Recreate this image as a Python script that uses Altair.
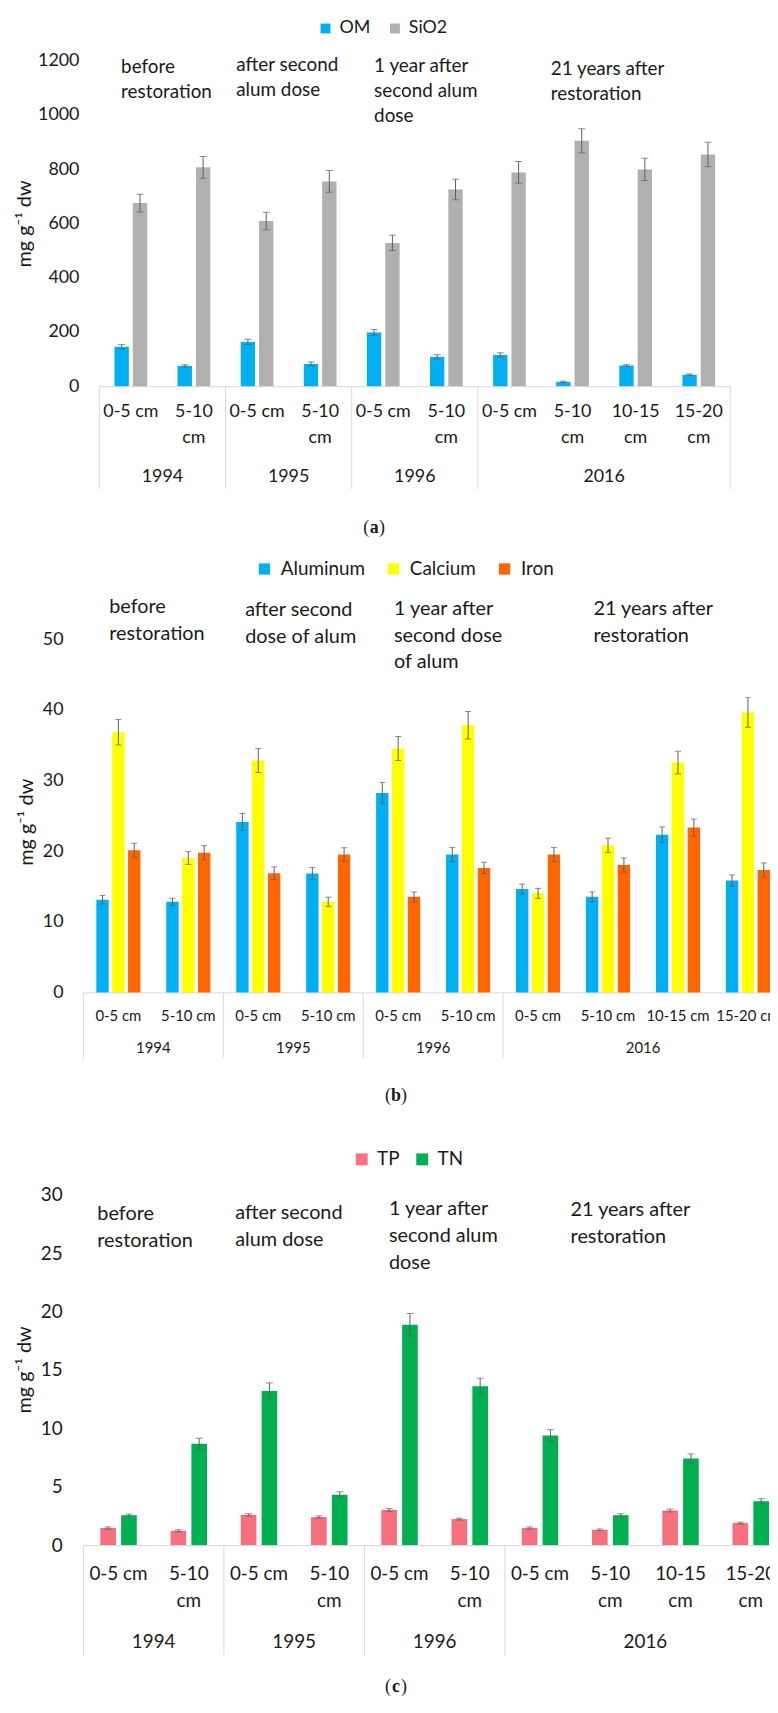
import altair as alt
import pandas as pd

# ---------------- data ----------------
years = ["1994", "1994", "1995", "1995", "1996", "1996", "2016", "2016", "2016", "2016"]
depths = ["0-5 cm", "5-10 cm", "0-5 cm", "5-10 cm", "0-5 cm", "5-10 cm",
          "0-5 cm", "5-10 cm", "10-15 cm", "15-20 cm"]
year_names = ["1994", "1995", "1996", "2016"]
depth_line1 = ["0-5 cm", "5-10", "0-5 cm", "5-10", "0-5 cm", "5-10", "0-5 cm", "5-10", "10-15", "15-20"]
depth_line2 = ["", "cm", "", "cm", "", "cm", "", "cm", "cm", "cm"]
keys = [f"{y} {d}" for y, d in zip(years, depths)]

# y tick labels
ticks_a = [0, 200, 400, 600, 800, 1000, 1200]
ticks_b = [0, 10, 20, 30, 40, 50]
ticks_c = [0, 5, 10, 15, 20, 25, 30]

# panel (a)
om = [147, 77, 165, 84, 200, 110, 117, 18, 78, 44]
om_err = [8, 4, 10, 7, 11, 8, 8, 2.5, 3, 3]
sio2 = [677, 809, 611, 757, 530, 727, 790, 907, 801, 856]
sio2_err = [33, 40, 32, 40, 28, 38, 40, 44, 41, 45]

# panel (b)
aluminum = [13.2, 12.9, 24.2, 16.9, 28.3, 19.6, 14.7, 13.6, 22.4, 15.9]
aluminum_err = [0.6, 0.5, 1.2, 0.85, 1.5, 1.0, 0.7, 0.7, 1.1, 0.8]
calcium = [36.9, 19.1, 32.9, 12.9, 34.6, 37.9, 14.1, 20.9, 32.6, 39.7]
calcium_err = [1.8, 0.9, 1.7, 0.65, 1.7, 1.95, 0.7, 1.0, 1.6, 2.1]
iron = [20.2, 19.85, 16.95, 19.6, 13.6, 17.7, 19.6, 18.1, 23.4, 17.4]
iron_err = [1.0, 1.0, 0.9, 0.95, 0.7, 0.8, 1.0, 1.0, 1.2, 1.0]

# panel (c)
tp = [1.5, 1.27, 2.63, 2.44, 3.06, 2.27, 1.5, 1.36, 3.0, 1.93]
tp_err = [0.1, 0.08, 0.1, 0.1, 0.12, 0.08, 0.1, 0.07, 0.12, 0.08]
tn = [2.6, 8.72, 13.25, 4.36, 18.92, 13.65, 9.43, 2.6, 7.45, 3.8]
tn_err = [0.1, 0.47, 0.68, 0.25, 0.96, 0.68, 0.5, 0.12, 0.4, 0.22]

notes_a = [["before", "restoration"], ["after second", "alum dose"],
           ["1 year after", "second alum", "dose"], ["21 years after", "restoration"]]
notes_b = [["before", "restoration"], ["after second", "dose of alum"],
           ["1 year after", "second dose", "of alum"], ["21 years after", "restoration"]]
notes_c = [["before", "restoration"], ["after second", "alum dose"],
           ["1 year after", "second alum", "dose"], ["21 years after", "restoration"]]

y_title = "mg g\u207b\u00b9 dw"
TXT = "#1a1a1a"
ERR = "#5f5f5f"
GRID = "#d9d9d9"
W = 768


def long_df(names, vals, errs):
    rows = []
    for name, v, e in zip(names, vals, errs):
        for k, val, err in zip(keys, v, e):
            rows.append({"key": k, "series": name, "value": val,
                         "lo": val - err, "hi": val + err})
    return pd.DataFrame(rows)


def panel(df, names, colors, ticks, cfg):
    xs = alt.Scale(domain=keys, range=cfg["xrange"], paddingInner=0, paddingOuter=0)
    ys = alt.Scale(domain=[ticks[0], ticks[-1]], range=cfg["yrange"], nice=False)
    xo = alt.XOffset("series:N", sort=names,
                     scale=alt.Scale(domain=names, paddingInner=cfg["pi"], paddingOuter=cfg["po"]))
    leg = alt.Legend(orient="none", legendX=cfg["legx"], legendY=cfg["legy"],
                     direction="horizontal", title=None, symbolType="square",
                     symbolSize=cfg["symsize"], symbolStrokeWidth=0, labelFont="Lato",
                     labelFontSize=cfg["legfont"], labelColor=TXT, labelOffset=cfg["laboff"],
                     columnPadding=cfg["colpad"], padding=0)
    base = alt.Chart(df)
    bars = base.mark_bar(clip=True).encode(
        x=alt.X("key:N", scale=xs, axis=None, sort=keys),
        xOffset=xo,
        y=alt.Y("value:Q", scale=ys, axis=None),
        color=alt.Color("series:N", sort=names,
                        scale=alt.Scale(domain=names, range=colors), legend=leg),
    )
    err = base.mark_rule(color=ERR, strokeWidth=1, clip=True).encode(
        x=alt.X("key:N", axis=None), xOffset=alt.XOffset("series:N"),
        y=alt.Y("lo:Q", axis=None), y2="hi:Q")
    cap_lo = base.mark_tick(color=ERR, thickness=1, size=cfg["cap"], clip=True).encode(
        x=alt.X("key:N", axis=None), xOffset=alt.XOffset("series:N"),
        y=alt.Y("lo:Q", axis=None))
    cap_hi = base.mark_tick(color=ERR, thickness=1, size=cfg["cap"], clip=True).encode(
        x=alt.X("key:N", axis=None), xOffset=alt.XOffset("series:N"),
        y=alt.Y("hi:Q", axis=None))

    tick_df = pd.DataFrame({"v": ticks, "lab": [str(t) for t in ticks]})
    ylabels = alt.Chart(tick_df).mark_text(
        font="Lato", fontSize=cfg["tickfont"], color=TXT, align="right", baseline="middle").encode(
        x=alt.value(cfg["axx"]), y=alt.Y("v:Q", axis=None), text="lab:N")

    baseline = alt.Chart(pd.DataFrame({"a": [keys[0]], "b": [keys[-1]]})).mark_rule(
        color=GRID, strokeWidth=1, clip=True).encode(
        x=alt.X("a:N", bandPosition=0, axis=None),
        x2=alt.X2("b:N", bandPosition=1),
        y=alt.datum(0))
    seps = alt.Chart(pd.DataFrame({"k": [keys[0], keys[2], keys[4], keys[6]]})).mark_rule(
        color=GRID, strokeWidth=1, clip=True).encode(
        x=alt.X("k:N", bandPosition=0, axis=None), y=alt.datum(0), y2=alt.value(cfg["sepy"]))
    sep_end = alt.Chart(pd.DataFrame({"k": [keys[-1]]})).mark_rule(
        color=GRID, strokeWidth=1, clip=True).encode(
        x=alt.X("k:N", bandPosition=1, axis=None), y=alt.datum(0), y2=alt.value(cfg["sepy"]))

    lab_df = pd.DataFrame({"key": keys, "l1": cfg["line1"], "l2": cfg["line2"]})
    lab1 = alt.Chart(lab_df).mark_text(font="Lato", fontSize=cfg["catfont"], color=TXT,
                                       baseline="middle", align="center", clip=True).encode(
        x=alt.X("key:N", axis=None), y=alt.value(cfg["caty1"]), text="l1:N")
    layers = [bars, err, cap_lo, cap_hi, ylabels, baseline, seps, sep_end, lab1]
    if cfg["caty2"] is not None:
        lab2 = alt.Chart(lab_df).mark_text(font="Lato", fontSize=cfg["catfont"], color=TXT,
                                           baseline="middle", align="center", clip=True).encode(
            x=alt.X("key:N", axis=None), y=alt.value(cfg["caty2"]), text="l2:N")
        layers.append(lab2)
    yr = alt.Chart(pd.DataFrame({"k": [keys[1], keys[3], keys[5], keys[8]], "year": year_names})).mark_text(
        font="Lato", fontSize=cfg["yearfont"], color=TXT, baseline="middle", align="center").encode(
        x=alt.X("k:N", bandPosition=0, axis=None), y=alt.value(cfg["yeary"]), text="year:N")
    layers.append(yr)

    for note, nx, ny in zip(cfg["notes"], cfg["notex"], cfg["notey"]):
        for i, line in enumerate(note):
            layers.append(alt.Chart(pd.DataFrame({"t": [line]})).mark_text(
                font="Lato", fontSize=cfg["notefont"], color=TXT, align="left", baseline="middle"
            ).encode(x=alt.value(nx), y=alt.value(ny + i * cfg["notelh"]), text="t:N"))

    layers.append(alt.Chart(pd.DataFrame({"t": [y_title]})).mark_text(
        font="Lato", fontSize=cfg["titlefont"], color=TXT, angle=270, align="center", baseline="middle"
    ).encode(x=alt.value(cfg["titlex"]), y=alt.value(cfg["titley"]), text="t:N"))

    tx, ty = cfg["tag"]
    for part, dx, al, wt in [("(", -5, "right", "normal"), (cfg["letter"], 0, "center", "bold"),
                             (")", 5, "left", "normal")]:
        layers.append(alt.Chart(pd.DataFrame({"t": [part]})).mark_text(
            font="Liberation Serif", fontSize=18, color=TXT, align=al, baseline="middle", fontWeight=wt
        ).encode(x=alt.value(tx + dx), y=alt.value(ty), text="t:N"))

    return alt.layer(*layers).properties(width=W, height=cfg["height"])


cfg_a = dict(height=540, yrange=[375, 47], axx=72, tickfont=18,
             xrange=[92, 728], pi=0.216, po=0.828, cap=7,
             legx=311, legy=5, legfont=18, symsize=100, laboff=5, colpad=15,
             notes=notes_a, notefont=19, notex=[114, 230, 369, 547], notey=[53, 51, 52, 55], notelh=25,
             line1=depth_line1, line2=depth_line2, catfont=18, caty1=401, caty2=427,
             yearfont=18, yeary=466, sepy=478, tag=(369, 517), letter="a",
             titlefont=20, titlex=17, titley=211)
cfg_b = dict(height=562, yrange=[446, 90], axx=56, tickfont=18,
             xrange=[76, 781], pi=0.22, po=0.813, cap=6,
             legx=249, legy=9, legfont=19, symsize=130, laboff=7, colpad=19,
             notes=notes_b, notefont=20, notex=[102, 239, 389, 590], notey=[57, 60, 59, 59], notelh=27,
             line1=depths, line2=depth_line2, catfont=15, caty1=469, caty2=None,
             yearfont=15, yeary=502, sepy=512, tag=(391, 550), letter="b",
             titlefont=20, titlex=19, titley=274)
cfg_c = dict(height=593, yrange=[441, 88], axx=55, tickfont=19,
             xrange=[76, 784], pi=0.25, po=0.81, cap=7,
             legx=347, legy=42, legfont=19, symsize=144, laboff=6, colpad=13,
             notes=notes_c, notefont=20, notex=[90, 229, 384, 567], notey=[107, 106, 102, 103], notelh=27,
             line1=depth_line1, line2=depth_line2, catfont=19, caty1=470, caty2=497,
             yearfont=19, yeary=538, sepy=552, tag=(391, 584), letter="c",
             titlefont=20, titlex=17, titley=264)

pa = panel(long_df(["OM", "SiO2"], [om, sio2], [om_err, sio2_err]),
           ["OM", "SiO2"], ["#00B0F0", "#B0B0B0"], ticks_a, cfg_a)
pb = panel(long_df(["Aluminum", "Calcium", "Iron"], [aluminum, calcium, iron],
                   [aluminum_err, calcium_err, iron_err]),
           ["Aluminum", "Calcium", "Iron"], ["#00B0F0", "#FFFF00", "#FF6600"], ticks_b, cfg_b)
pc = panel(long_df(["TP", "TN"], [tp, tn], [tp_err, tn_err]),
           ["TP", "TN"], ["#F6707E", "#00B050"], ticks_c, cfg_c)

chart = alt.vconcat(pa, pb, pc, spacing=0, padding=0).resolve_scale(
    x="independent", y="independent", xOffset="independent", color="independent"
).resolve_legend(color="independent").configure(font="Lato").configure_view(stroke=None)

chart.save("out.html", embed_options={"renderer": "svg", "actions": False})
